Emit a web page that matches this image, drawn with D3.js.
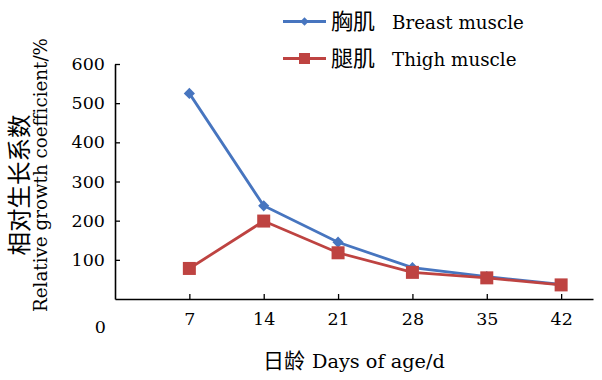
<!DOCTYPE html>
<html><head><meta charset="utf-8">
<script src="https://cdn.jsdelivr.net/npm/d3@7"></script>
<style>body{margin:0;background:#fff}svg{display:block}</style>
</head><body>
<script>
const days = [7, 14, 21, 28, 35, 42];
const breast = [525, 238, 145, 80, 57, 37];
const thigh = [78, 199, 118, 68, 54, 36];
const yTicks = [100, 200, 300, 400, 500, 600];
const seriesNames = [["胸肌", "Breast muscle"], ["腿肌", "Thigh muscle"]];
const colors = ["#4775BF", "#BE4341"];

const W = 602, H = 380;
const svg = d3.select("body").append("svg").attr("width", W).attr("height", H);
const x = d3.scaleLinear().domain([0, 45]).range([115, 593]);
const y = d3.scaleLinear().domain([0, 600]).range([299, 64]);
const serif = "'DejaVu Serif', 'Liberation Serif', serif";
const cjk = "'Noto Sans CJK SC', sans-serif";
const ink = "#000";

// axes
const xAxis = svg.append("g").attr("transform", `translate(0,${y(0)})`)
  .call(d3.axisBottom(x).tickValues(days).tickSize(-5).tickPadding(26).tickSizeOuter(0));
const yAxis = svg.append("g").attr("transform", `translate(${x(0)},0)`)
  .call(d3.axisLeft(y).tickValues(yTicks).tickSize(-5).tickPadding(10).tickSizeOuter(0));
[xAxis, yAxis].forEach(g => {
  g.select(".domain").attr("stroke", "#000").attr("stroke-width", 1.6);
  g.selectAll(".tick line").attr("stroke", "#000").attr("stroke-width", 1.3);
  g.selectAll(".tick text").attr("font-family", serif).attr("font-size", 17.5).attr("fill", ink);
});
xAxis.selectAll(".tick text").attr("dy", 0);
// zero label
svg.append("text").attr("x", 106).attr("y", 333).attr("text-anchor", "end")
  .attr("font-family", serif).attr("font-size", 17.5).attr("fill", ink).text("0");

// lines
const line = d3.line().x((d, i) => x(days[i])).y(d => y(d));
[breast, thigh].forEach((s, k) => {
  svg.append("path").datum(s).attr("d", line).attr("fill", "none")
    .attr("stroke", colors[k]).attr("stroke-width", 2.8);
});
// markers
const diamond = d3.symbol().type(d3.symbolDiamond2).size(80);
svg.append("g").selectAll("path").data(breast).join("path")
  .attr("d", diamond).attr("fill", colors[0])
  .attr("transform", (d, i) => `translate(${x(days[i])},${y(d)})`);
svg.append("g").selectAll("rect").data(thigh).join("rect")
  .attr("x", (d, i) => x(days[i]) - 6.5).attr("y", d => y(d) - 6.5)
  .attr("width", 13).attr("height", 13).attr("fill", colors[1]);

// legend
const lg = [21.5, 58.5];
seriesNames.forEach((nm, k) => {
  svg.append("line").attr("x1", 283).attr("x2", 326).attr("y1", lg[k]).attr("y2", lg[k])
    .attr("stroke", colors[k]).attr("stroke-width", 2.8);
  if (k === 0) {
    svg.append("path").attr("d", d3.symbol().type(d3.symbolDiamond2).size(45)())
      .attr("fill", colors[0]).attr("transform", `translate(304.5,${lg[k]})`);
  } else {
    svg.append("rect").attr("x", 299).attr("y", lg[k] - 5.5).attr("width", 11).attr("height", 11)
      .attr("fill", colors[1]);
  }
  const t = svg.append("text").attr("x", 331).attr("y", lg[k] + 7).attr("fill", ink);
  t.append("tspan").attr("font-family", cjk).attr("font-size", 22).text(nm[0]);
  t.append("tspan").attr("x", 392).attr("font-family", serif).attr("font-size", 18.3).text(nm[1]);
});

// y axis title
svg.append("text").attr("transform", "translate(28,185) rotate(-90)").attr("text-anchor", "middle")
  .attr("font-family", cjk).attr("font-size", 23.5).attr("fill", ink).text("相对生长系数");
svg.append("text").attr("transform", "translate(47,175) rotate(-90)").attr("text-anchor", "middle")
  .attr("font-family", serif).attr("font-size", 18.3).attr("fill", ink).text("Relative growth coefficient/%");

// x axis title
const xt = svg.append("text").attr("x", 263).attr("y", 368).attr("fill", ink);
xt.append("tspan").attr("font-family", cjk).attr("font-size", 21).text("日龄");
xt.append("tspan").attr("x", 312).attr("font-family", serif).attr("font-size", 19.3).text("Days of age/d");
</script>
</body></html>
